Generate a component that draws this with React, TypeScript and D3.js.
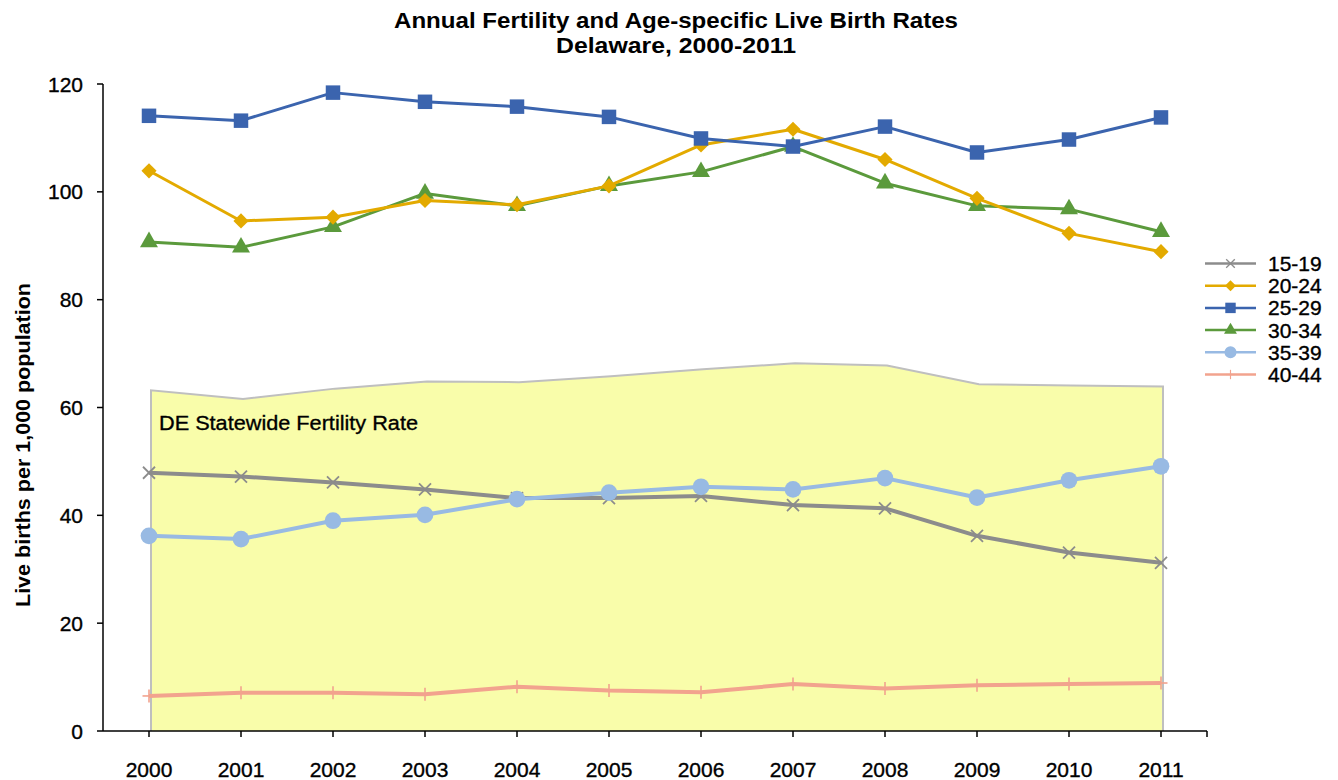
import React from "react";
import * as d3 from "d3";

const years = ["2000","2001","2002","2003","2004","2005","2006","2007","2008","2009","2010","2011"];
const fertility = [63.2, 61.6, 63.5, 64.8, 64.7, 65.8, 67.1, 68.2, 67.8, 64.3, 64.1, 63.9];
const r1519 = [47.9, 47.2, 46.1, 44.8, 43.2, 43.2, 43.6, 41.9, 41.3, 36.2, 33.1, 31.2];
const r2024 = [103.9, 94.6, 95.3, 98.4, 97.6, 101.1, 108.7, 111.6, 106.0, 98.8, 92.3, 88.9];
const r2529 = [114.1, 113.2, 118.4, 116.7, 115.8, 113.9, 109.9, 108.4, 112.1, 107.3, 109.7, 113.8];
const r3034 = [90.7, 89.7, 93.5, 99.7, 97.4, 101.1, 103.7, 108.4, 101.6, 97.4, 96.8, 92.6];
const r3539 = [36.2, 35.6, 39.0, 40.1, 43.0, 44.2, 45.3, 44.8, 46.9, 43.3, 46.5, 49.1];
const r4044 = [6.5, 7.1, 7.1, 6.8, 8.2, 7.5, 7.2, 8.7, 7.9, 8.5, 8.7, 8.9];
const yTicks = [0, 20, 40, 60, 80, 100, 120];

type Marker = "x" | "diamond" | "square" | "triangle" | "circle" | "plus";
const series: { name: string; values: number[]; color: string; marker: Marker; width: number }[] = [
  { name: "15-19", values: r1519, color: "#8c8c8c", marker: "x", width: 4 },
  { name: "20-24", values: r2024, color: "#e3aa00", marker: "diamond", width: 3 },
  { name: "25-29", values: r2529, color: "#3b64ae", marker: "square", width: 3 },
  { name: "30-34", values: r3034, color: "#5b9a3c", marker: "triangle", width: 3 },
  { name: "35-39", values: r3539, color: "#98bae3", marker: "circle", width: 4 },
  { name: "40-44", values: r4044, color: "#f2a38e", marker: "plus", width: 4 },
];
const drawOrder = [5, 0, 4, 3, 1, 2];

const FONT = "'Liberation Sans', Arial, sans-serif";

function MarkerShape({ type, cx, cy, color, s }: { type: Marker; cx: number; cy: number; color: string; s: number }) {
  if (type === "x") {
    const h = 6 * s;
    return (
      <g stroke={color} strokeWidth={1.8 * s}>
        <line x1={cx - h} y1={cy - h} x2={cx + h} y2={cy + h} />
        <line x1={cx - h} y1={cy + h} x2={cx + h} y2={cy - h} />
      </g>
    );
  }
  if (type === "plus") {
    const h = 6.5 * s;
    return (
      <g stroke={color} strokeWidth={1.6 * s}>
        <line x1={cx - h} y1={cy} x2={cx + h} y2={cy} />
        <line x1={cx} y1={cy - h} x2={cx} y2={cy + h} />
      </g>
    );
  }
  let path = "";
  if (type === "square") path = d3.symbol(d3.symbolSquare, 210 * s * s)() || "";
  if (type === "diamond") path = d3.symbol(d3.symbolSquare, 115 * s * s)() || "";
  if (type === "triangle") path = d3.symbol(d3.symbolTriangle, 140 * s * s)() || "";
  if (type === "circle") path = d3.symbol(d3.symbolCircle, 220 * s * s)() || "";
  const rot = type === "diamond" ? 45 : 0;
  return <path d={path} fill={color} transform={`translate(${cx},${cy}) rotate(${rot})`} />;
}

export default function App() {
  const W = 1338, H = 780;
  const left = 103, right = 1207, top = 84, bottom = 731;
  const x = d3.scaleBand<string>().domain(years).range([left, right]).paddingInner(0).paddingOuter(0);
  const cx = (yr: string) => (x(yr) as number) + x.bandwidth() / 2;
  const y = d3.scaleLinear().domain([0, 120]).range([bottom, top]);

  const area = d3.area<number>().x((_, i) => cx(years[i]) + 2).y0(y(0)).y1((d) => y(d));
  const topLine = d3.line<number>().x((_, i) => cx(years[i]) + 2).y((d) => y(d));
  const line = d3.line<number>().x((_, i) => cx(years[i])).y((d) => y(d));

  const heavy = { stroke: "#000", strokeWidth: 0.35 };

  return (
    <svg width={W} height={H} style={{ display: "block", position: "absolute", left: 0, top: 0 }} fontFamily={FONT}>
      <rect width={W} height={H} fill="#fff" />
      {/* title */}
      <text x={676} y={28} textAnchor="middle" fontWeight="bold" fontSize={22} textLength={564} lengthAdjust="spacingAndGlyphs">
        Annual Fertility and Age-specific Live Birth Rates
      </text>
      <text x={676} y={53} textAnchor="middle" fontWeight="bold" fontSize={22} textLength={240} lengthAdjust="spacingAndGlyphs">
        Delaware, 2000-2011
      </text>

      {/* fertility area */}
      <path d={area(fertility) || ""} fill="#f9fdaa" />
      <path
        d={`M${cx(years[0]) + 2},${y(0)}L` + (topLine(fertility) || "").slice(1) + `L${cx(years[years.length - 1]) + 2},${y(0)}`}
        fill="none"
        stroke="#bfbfbf"
        strokeWidth={2}
      />
      <text x={159} y={430} fontSize={20.5} textLength={259} lengthAdjust="spacingAndGlyphs" {...heavy}>
        DE Statewide Fertility Rate
      </text>

      {/* axes */}
      <g stroke="#000" strokeWidth={1.5}>
        <line x1={left} y1={top} x2={left} y2={bottom} />
        <line x1={left} y1={bottom} x2={right} y2={bottom} />
        {yTicks.map((t) => (
          <line key={t} x1={left - 6} x2={left} y1={y(t)} y2={y(t)} />
        ))}
        {years.map((yr) => (
          <line key={yr} x1={cx(yr)} x2={cx(yr)} y1={bottom} y2={bottom + 6} />
        ))}
        <line x1={right} x2={right} y1={bottom} y2={bottom + 6} />
      </g>
      {yTicks.map((t) => (
        <text key={t} x={83} y={y(t) + 7.5} textAnchor="end" fontSize={21} {...heavy}>
          {t}
        </text>
      ))}
      {years.map((yr) => (
        <text key={yr} x={cx(yr)} y={777} textAnchor="middle" fontSize={21} {...heavy}>
          {yr}
        </text>
      ))}
      <text
        transform={`translate(30,445) rotate(-90)`}
        textAnchor="middle"
        fontWeight="bold"
        fontSize={20}
        textLength={324}
        lengthAdjust="spacingAndGlyphs"
      >
        Live births per 1,000 population
      </text>

      {/* series */}
      {drawOrder.map((si) => {
        const s = series[si];
        return (
          <g key={s.name}>
            <path d={line(s.values) || ""} fill="none" stroke={s.color} strokeWidth={s.width} strokeLinejoin="round" />
            {s.values.map((v, i) => (
              <MarkerShape key={i} type={s.marker} cx={cx(years[i])} cy={y(v)} color={s.color} s={1} />
            ))}
          </g>
        );
      })}

      {/* legend */}
      {series.map((s, i) => {
        const ly = 263.5 + i * 22.2;
        return (
          <g key={s.name}>
            <line x1={1205} x2={1256} y1={ly} y2={ly} stroke={s.color} strokeWidth={2.5} />
            <MarkerShape type={s.marker} cx={1230.5} cy={ly} color={s.color} s={0.72} />
            <text x={1268} y={ly + 7.5} fontSize={21} {...heavy}>
              {s.name}
            </text>
          </g>
        );
      })}
    </svg>
  );
}
